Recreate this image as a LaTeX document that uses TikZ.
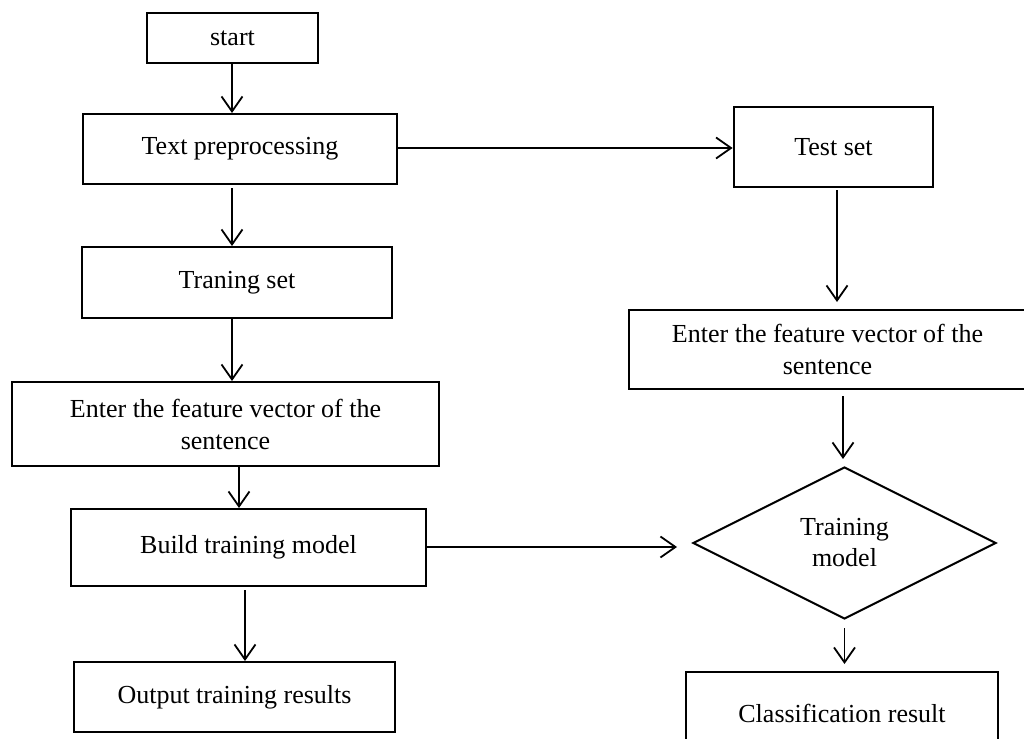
\documentclass[tikz,border=0pt]{standalone}
\usepackage{fontspec}
\setmainfont{Liberation Serif}
\usetikzlibrary{arrows.meta,shapes.geometric}

\begin{document}
\begin{tikzpicture}[x=1pt,y=-1pt,
  box/.style={draw=black, line width=2pt, inner sep=0pt, align=center,
    font=\fontsize{26}{32}\selectfont},
  decision/.style={draw=black, line width=2pt, diamond, aspect=2, inner sep=0pt,
    align=center, font=\fontsize{26}{31}\selectfont},
  arr/.style={line width=1.8pt, -{Straight Barb[length=15pt,width=21pt,line width=1.8pt]}}
]
\useasboundingbox[fill=white] (0,0) rectangle (1024,738);
\begin{scope}
\clip (0,0) rectangle (1024,738);

% left column: training branch
\node[box, minimum width=171pt, minimum height=50pt] (start) at (232.5,38) {start};
\node[box, minimum width=314pt, minimum height=70pt] (text) at (240,149) {Text preprocessing};
\node[box, minimum width=310pt, minimum height=71pt] (train) at (237,282.5) {Traning set};
\node[box, minimum width=427pt, minimum height=84pt] (enterL) at (225.5,424)
  {Enter the feature vector of the\\sentence};
\node[box, minimum width=355pt, minimum height=77pt] (build) at (248.5,547.5) {Build training model};
\node[box, minimum width=321pt, minimum height=70pt] (output) at (234.5,697) {Output training results};

% right column: test branch
\node[box, line width=2.8pt, minimum width=199pt, minimum height=80pt] (test) at (833.5,147) {Test set};
\node[box, minimum width=397pt, minimum height=79pt] (enterR) at (827.5,349.5)
  {Enter the feature vector of the\\sentence};
\node[decision, minimum width=303pt, minimum height=152pt] (model) at (844.5,543) {Training\\model};
\node[box, minimum width=312pt, minimum height=82pt] (result) at (842,713) {Classification result};

% connectors
\draw[arr] (start.south -| 232,0) -- (text.north -| 232,0);
\draw[arr, shorten <=3pt] (text.south -| 232,0) -- (train.north -| 232,0);
\draw[arr] (train.south -| 232,0) -- (enterL.north -| 232,0);
\draw[arr] (enterL.south -| 239,0) -- (build.north -| 239,0);
\draw[arr, shorten <=3pt] (build.south -| 245,0) -- (output.north -| 245,0);

\draw[arr] (text.east |- 0,148) -- (test.west |- 0,148);
\draw[arr, shorten <=2pt, shorten >=7pt] (test.south -| 837,0) -- (enterR.north -| 837,0);
\draw[arr, shorten <=6pt, shorten >=7pt] (enterR.south -| 843,0) -- (model.north -| 843,0);
\draw[arr, shorten >=15pt] (build.east |- 0,547) -- (model.west |- 0,547);
\draw[arr, shorten <=8pt, shorten >=7pt] (model.south) -- (result.north -| model.south);
\end{scope}
\end{tikzpicture}
\end{document}
